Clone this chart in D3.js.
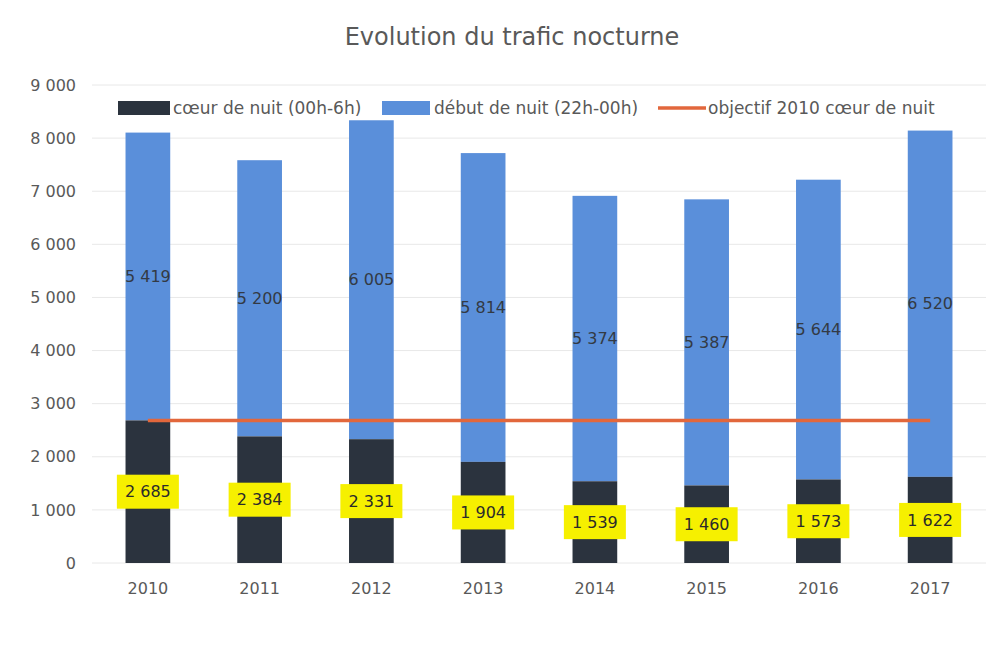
<!DOCTYPE html>
<html><head><meta charset="utf-8">
<script src="https://cdn.jsdelivr.net/npm/d3@7"></script>
<style>body{margin:0;background:#fff}</style>
</head><body>
<svg id="c" width="999" height="669"></svg>
<script>
const years = ["2010","2011","2012","2013","2014","2015","2016","2017"];
const coeur = [2685,2384,2331,1904,1539,1460,1573,1622];
const debut = [5419,5200,6005,5814,5374,5387,5644,6520];
const objectif = 2685;
const yTicks = [0,1000,2000,3000,4000,5000,6000,7000,8000,9000];
const seriesNames = ["cœur de nuit (00h-6h)","début de nuit (22h-00h)","objectif 2010 cœur de nuit"];

const colDark = "#2b333e", colBlue = "#5a8fda", colOrange = "#e2673c", textCol = "#595959";
const svg = d3.select("#c");
const font = "'DejaVu Sans', sans-serif";
const fmt = v => d3.format(",")(v).replace(",", " ");

const x = d3.scaleBand().domain(years).range([92, 986]).paddingInner(0.6).paddingOuter(0.3);
const y = d3.scaleLinear().domain([0, 9000]).range([563, 85]);

svg.append("text").attr("x", 512).attr("y", 45).attr("text-anchor","middle")
  .attr("font-family", font).attr("font-size", 24).attr("fill", textCol).text("Evolution du trafic nocturne");

// gridlines
svg.append("g").selectAll("line").data(yTicks).join("line")
  .attr("x1", 92).attr("x2", 986).attr("y1", d=>y(d)).attr("y2", d=>y(d))
  .attr("stroke", "#e8e8e8").attr("stroke-width", 1);

// y axis
const yAxis = d3.axisLeft(y).tickValues(yTicks).tickSize(0).tickPadding(10).tickFormat(fmt);
const gy = svg.append("g").attr("transform","translate(86,0)").call(yAxis);
gy.select(".domain").remove();
gy.selectAll("text").attr("font-family", font).attr("font-size", 16).attr("fill", textCol);

// x axis
const xAxis = d3.axisBottom(x).tickSize(0).tickPadding(20);
const gx = svg.append("g").attr("transform",`translate(0,${y(0)})`).call(xAxis);
gx.select(".domain").remove();
gx.selectAll("text").attr("font-family", font).attr("font-size", 16).attr("fill", textCol);

// bars
const bw = x.bandwidth();
svg.append("g").selectAll("rect").data(years).join("rect")
  .attr("x", d=>x(d)).attr("width", bw)
  .attr("y", (d,i)=>y(coeur[i]+debut[i])).attr("height", (d,i)=>y(coeur[i]) - y(coeur[i]+debut[i]))
  .attr("fill", colBlue);
svg.append("g").selectAll("rect").data(years).join("rect")
  .attr("x", d=>x(d)).attr("width", bw)
  .attr("y", (d,i)=>y(coeur[i])).attr("height", (d,i)=>y(0) - y(coeur[i]))
  .attr("fill", colDark);

// objective line
svg.append("line")
  .attr("x1", x(years[0]) + bw/2).attr("x2", x(years[years.length-1]) + bw/2)
  .attr("y1", y(objectif)).attr("y2", y(objectif))
  .attr("stroke", colOrange).attr("stroke-width", 3.5);

// debut labels
svg.append("g").selectAll("text").data(years).join("text")
  .attr("x", d=>x(d)+bw/2).attr("y", (d,i)=>y(coeur[i] + debut[i]/2)).attr("dy","0.35em")
  .attr("text-anchor","middle").attr("font-family", font).attr("font-size", 16).attr("fill", "#333a44")
  .text((d,i)=>fmt(debut[i]));

// coeur labels with yellow boxes
const lg = svg.append("g").selectAll("g").data(years).join("g")
  .attr("transform", (d,i)=>`translate(${x(d)+bw/2},${y(coeur[i]/2)})`);
lg.append("rect").attr("x", -31).attr("y", -17).attr("width", 62).attr("height", 34).attr("fill", "#f6f000");
lg.append("text").attr("dy","0.35em").attr("text-anchor","middle").attr("font-family", font)
  .attr("font-size", 16).attr("fill", "#2b2b2b").text((d,i)=>fmt(coeur[i]));

// legend
const leg = svg.append("g").attr("font-family", font).attr("font-size", 17).attr("fill", textCol);
const lx = [118, 382, 658];
leg.append("rect").attr("x", lx[0]).attr("y", 101).attr("width", 52).attr("height", 14).attr("fill", colDark);
leg.append("text").attr("x", lx[0]+55).attr("y", 114).text(seriesNames[0]);
leg.append("rect").attr("x", lx[1]).attr("y", 101).attr("width", 48).attr("height", 14).attr("fill", colBlue);
leg.append("text").attr("x", lx[1]+52).attr("y", 114).text(seriesNames[1]);
leg.append("line").attr("x1", lx[2]).attr("x2", lx[2]+48).attr("y1", 108).attr("y2", 108).attr("stroke", colOrange).attr("stroke-width", 3.5);
leg.append("text").attr("x", lx[2]+50).attr("y", 114).text(seriesNames[2]);
</script>
</body></html>
